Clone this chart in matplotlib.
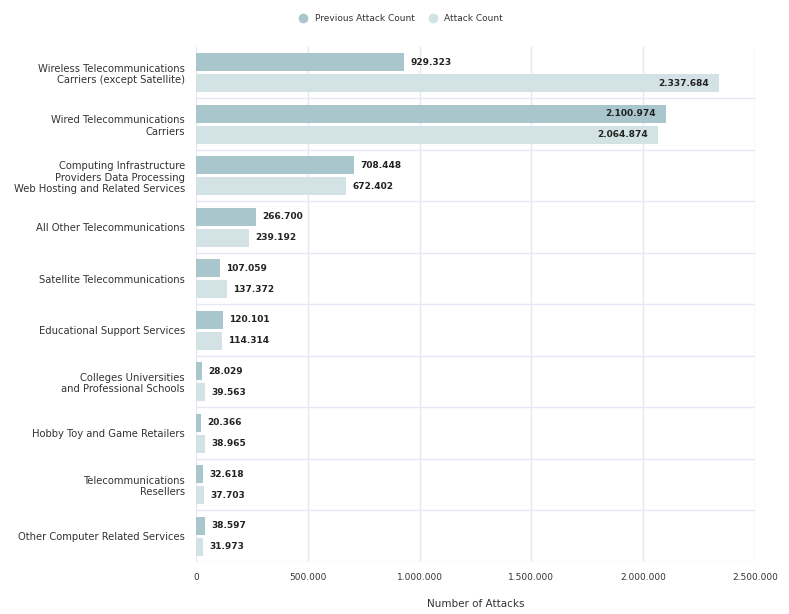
import matplotlib
matplotlib.use("Agg")
import matplotlib.pyplot as plt
from matplotlib.lines import Line2D
import numpy as np

categories = [
    "Wireless Telecommunications\nCarriers (except Satellite)",
    "Wired Telecommunications\nCarriers",
    "Computing Infrastructure\nProviders Data Processing\nWeb Hosting and Related Services",
    "All Other Telecommunications",
    "Satellite Telecommunications",
    "Educational Support Services",
    "Colleges Universities\nand Professional Schools",
    "Hobby Toy and Game Retailers",
    "Telecommunications\nResellers",
    "Other Computer Related Services",
]
previous_count = [929323, 2100974, 708448, 266700, 107059, 120101, 28029, 20366, 32618, 38597]
attack_count = [2337684, 2064874, 672402, 239192, 137372, 114314, 39563, 38965, 37703, 31973]
x_ticks = [0, 500000, 1000000, 1500000, 2000000, 2500000]

prev_color = "#a9c6cc"
curr_color = "#d3e3e5"
grid_color = "#e6e6f4"


def fmt(v):
    return f"{v:,}".replace(",", ".")


fig = plt.figure(figsize=(7.89, 6.14), dpi=100)
ax = fig.add_axes([0.2484, 0.0847, 0.7086, 0.8388])

n = len(categories)
y = np.arange(n)
h = 0.35
gap = 0.05
ax.barh(y - h / 2 - gap / 2, previous_count, height=h, color=prev_color, zorder=2)
ax.barh(y + h / 2 + gap / 2, attack_count, height=h, color=curr_color, zorder=2)

for i in range(n):
    for v, yy in ((previous_count[i], y[i] - h / 2 - gap / 2), (attack_count[i], y[i] + h / 2 + gap / 2)):
        if v > 2000000:
            ax.text(v - 45000, yy, fmt(v), ha="right", va="center", fontsize=6.5,
                    fontweight="bold", color="#222222", zorder=3)
        else:
            ax.text(v + 28000, yy, fmt(v), ha="left", va="center", fontsize=6.5,
                    fontweight="bold", color="#222222", zorder=3)

ax.set_ylim(n - 0.5, -0.5)
ax.set_xlim(0, 2500000)
ax.set_yticks(y)
ax.set_yticklabels(categories, fontsize=7.2, color="#333333")
ax.set_xticks(x_ticks)
ax.set_xticklabels([fmt(t) for t in x_ticks], fontsize=6.5, color="#333333")
ax.tick_params(axis="y", length=0, pad=8)
ax.tick_params(axis="x", length=0, pad=8)

for xt in x_ticks:
    ax.axvline(xt, color=grid_color, lw=1, zorder=0)
for b in np.arange(0.5, n - 0.5, 1):
    ax.axhline(b, color=grid_color, lw=1, zorder=0)
ax.axhline(n - 0.5, color=grid_color, lw=1, zorder=0)

for s in ax.spines.values():
    s.set_visible(False)

ax.set_xlabel("Number of Attacks", fontsize=7.5, color="#333333", labelpad=12)

handles = [
    Line2D([], [], marker="o", ls="", markersize=6, color=prev_color),
    Line2D([], [], marker="o", ls="", markersize=6, color=curr_color),
]
fig.legend(handles, ["Previous Attack Count", "Attack Count"], loc="center",
           bbox_to_anchor=(0.505, 0.97), ncol=2, frameon=False, fontsize=6.5,
           handletextpad=0.3, columnspacing=1.0, labelcolor="#333333")

fig.savefig("out.png", dpi=100, facecolor="white")
